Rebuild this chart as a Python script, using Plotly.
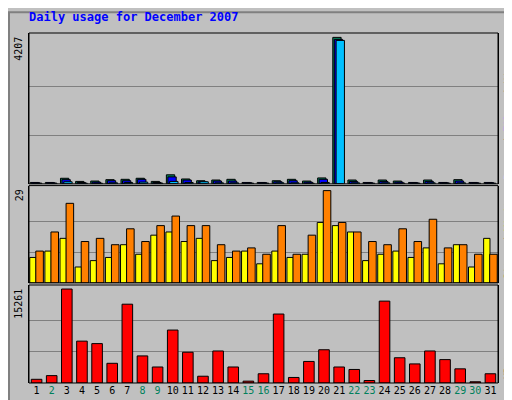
import plotly.graph_objects as go

days = list(range(1, 32))
hits  = [40, 40, 160, 70, 80, 120, 130, 160, 70, 260, 140, 90, 110, 130, 40, 40, 90, 130, 80, 170, 4207, 110, 40, 110, 80, 40, 110, 40, 120, 40, 40]
files = [30, 30, 120, 40, 50, 90, 90, 130, 40, 200, 110, 60, 80, 80, 30, 30, 60, 90, 50, 130, 4150, 70, 30, 70, 50, 30, 70, 30, 80, 30, 30]
pages = [20, 20, 60, 20, 20, 30, 40, 50, 20, 70, 40, 60, 30, 30, 20, 20, 30, 30, 20, 40, 4120, 30, 20, 30, 20, 20, 30, 20, 30, 20, 20]
sites  = [8, 10, 14, 5, 7, 8, 12, 9, 15, 16, 13, 14, 7, 8, 10, 6, 10, 8, 9, 19, 18, 16, 7, 9, 10, 8, 11, 6, 12, 5, 14]
visits = [10, 16, 25, 13, 14, 12, 17, 13, 18, 21, 18, 18, 12, 10, 11, 9, 18, 9, 15, 29, 19, 16, 13, 12, 17, 13, 20, 11, 12, 9, 9]
kbytes = [600, 1200, 15261, 6800, 6400, 3200, 12800, 4400, 2600, 8600, 5000, 1100, 5200, 2600, 300, 1500,
          11200, 900, 3500, 5400, 2600, 2200, 400, 13300, 4100, 3100, 5200, 3800, 2300, 200, 1500]
green_days = [2, 8, 9, 15, 16, 22, 23, 29, 30]

fig = go.Figure()
def bar(y, color, off, w, ax):
    fig.add_trace(go.Bar(x=days, y=y, marker=dict(color=color, line=dict(color="black", width=1)),
                         offset=off, width=w, xaxis="x", yaxis=ax, showlegend=False, hoverinfo="skip"))

bar(hits, "#00805C", -0.42, 0.55, "y")
bar(files, "#0000FF", -0.32, 0.55, "y")
bar(pages, "#00C0FF", -0.2, 0.55, "y")
bar(sites, "#FFFF00", -0.45, 0.42, "y2")
bar(visits, "#FF8000", -0.05, 0.5, "y2")
bar(kbytes, "#FF0000", -0.35, 0.7, "y3")

ticktext = [f"<span style='color:#00805C'>{d}</span>" if d in green_days else str(d) for d in days]
maxes = [4207, 29, 15261]
tops = [4207 * 1.03, 29 * 97 / 92, 15261 * 97 / 93]
doms = [[0.569, 1.0], [0.286, 0.564], [0.0, 0.28]]
mono = "DejaVu Sans Mono"
layout = dict(
    width=512, height=400, margin=dict(l=21, r=22, t=25, b=22),
    paper_bgcolor="#C0C0C0", plot_bgcolor="#C0C0C0", barmode="overlay",
    font=dict(family=mono, size=10, color="black"),
    xaxis=dict(range=[0.5, 31.5], tickvals=days, ticktext=ticktext, ticks="", anchor="y3",
               showgrid=False, zeroline=False, tickfont=dict(size=10)),
)
for i, name in enumerate(["yaxis", "yaxis2", "yaxis3"]):
    layout[name] = dict(domain=doms[i], range=[0, tops[i]], tickvals=[maxes[i] / 3, 2 * maxes[i] / 3],
                        showticklabels=False, ticks="", gridcolor="#808080", gridwidth=1, zeroline=False,
                        showline=True, mirror=True, linecolor="black", linewidth=1)
    if i > 0:
        layout[name]["anchor"] = "x"
fig.update_layout(**layout)

for d in doms:
    fig.add_shape(type="rect", xref="paper", yref="paper", x0=0, x1=1, y0=d[0], y1=d[1],
                  line=dict(color="black", width=1))
fig.add_shape(type="rect", xref="paper", yref="paper", x0=-20/469, x1=490/469, y0=-21/353, y1=374/353,
              line=dict(color="#808080", width=2))

fig.add_annotation(text="<b>Daily usage for December 2007</b>", xref="paper", yref="paper",
                   x=-2/469, y=1 + 16/353, xanchor="left", yanchor="middle", showarrow=False,
                   font=dict(family=mono, size=12, color="#0000FF"))
for i, m in enumerate(maxes):
    fig.add_annotation(text=str(m), xref="paper", yref="paper", x=-10/469, y=doms[i][1] - 0.005,
                       xanchor="center", yanchor="top", textangle=-90, showarrow=False,
                       font=dict(family=mono, size=10))
right = [
    "<span style='color:#00C0FF'>Pages</span> / <span style='color:#0000FF'>Files</span> / <span style='color:#00805C'>Hits</span>",
    "<span style='color:#FF8000'>Sites</span> / <span style='color:#FFFF00'>Visits</span>",
    "<span style='color:#FF0000'>KBytes</span>",
]
for i, t in enumerate(right):
    fig.add_annotation(text=t, xref="paper", yref="paper", x=1 + 10/469, y=doms[i][0] + 0.005,
                       xanchor="center", yanchor="bottom", textangle=-90, showarrow=False,
                       font=dict(family=mono, size=10))

fig.write_html("out.html")
